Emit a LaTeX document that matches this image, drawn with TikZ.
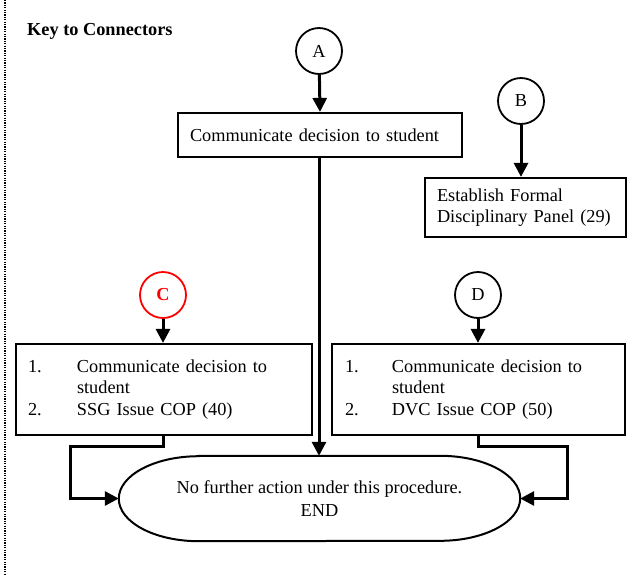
\documentclass[tikz,border=0pt]{standalone}
\usepackage{fontspec}
\setmainfont{Liberation Serif}
\usetikzlibrary{arrows.meta}
\tikzset{
  conbox/.style={draw, line width=2.2pt, inner xsep=12pt, inner ysep=0pt, align=left, anchor=center},
  conncirc/.style={draw, circle, line width=1.8pt, minimum size=46pt, inner sep=0pt, anchor=center},
  conn/.style={line width=3pt, -{Triangle[length=14pt,width=14pt]}},
  stadium/.style={minimum width=401pt, minimum height=85pt, align=center, inner sep=0pt, anchor=center, font=\fontsize{18.3}{23}\selectfont},
  stadline/.style={line width=2pt},
}
\begin{document}
\begin{tikzpicture}[x=1pt,y=-1pt,font=\fontsize{18.3}{21.5}\selectfont]
\useasboundingbox (0,0) rectangle (637,574);
\draw[line width=1.6pt, dash pattern=on 1.2pt off 1.2pt] (5,0) -- (5,574);
\node[anchor=base west, inner sep=0pt, font=\fontsize{18.3}{21.5}\selectfont\bfseries] (key) at (27,35) {Key to Connectors};

\node[conncirc] (A) at (319,51) {A};
\node[conncirc] (B) at (521,101) {B};
\node[conncirc, draw=red, text=red, font=\fontsize{18.3}{21.5}\selectfont\bfseries] (C) at (163,295) {C};
\node[conncirc] (D) at (478,295) {D};

\node[conbox, minimum width=284pt, minimum height=44pt, text width=260pt] (boxA) at (320,135) {Communicate decision to student};
\node[conbox, minimum width=201pt, minimum height=59pt, text width=177pt] (boxB) at (525.5,207.5) {Establish Formal\\Disciplinary Panel (29)};
\node[conbox, minimum width=296pt, minimum height=91pt, text width=272pt] (boxC) at (164,389.5)
  {\makebox[49pt][l]{1.}Communicate decision to\\\hspace*{49pt}student\\\makebox[49pt][l]{2.}SSG Issue COP (40)};
\node[conbox, inner xsep=13pt, minimum width=293pt, minimum height=91pt, text width=267pt] (boxD) at (478.5,389.5)
  {\makebox[47pt][l]{1.}Communicate decision to\\\hspace*{47pt}student\\\makebox[47pt][l]{2.}DVC Issue COP (50)};

\node[stadium] (stad) at (319.5,498.5) {No further action under this procedure.\\END};
\draw[stadline] ([xshift=80pt]stad.north west) -- ([xshift=-80pt]stad.north east)
  arc[start angle=90, end angle=-90, x radius=80pt, y radius=42.5pt]
  -- ([xshift=80pt]stad.south west)
  arc[start angle=270, end angle=90, x radius=80pt, y radius=42.5pt] -- cycle;

\draw[conn] (A) -- (boxA.north);
\draw[conn] (B) -- (B |- boxB.north);
\draw[conn] (C) -- (C |- boxC.north);
\draw[conn] (D) -- (D |- boxD.north);
\draw[conn] ([xshift=-1pt]boxA.south) -- ([xshift=-1pt]boxA.south |- stad.north);
\draw[conn] (C |- boxC.south) -- ++(0,10) -| ([xshift=-48pt]stad.west) -- (stad.west);
\draw[conn] (D |- boxD.south) -- ++(0,10) -| ([xshift=47pt]stad.east) -- (stad.east);
\end{tikzpicture}
\end{document}
